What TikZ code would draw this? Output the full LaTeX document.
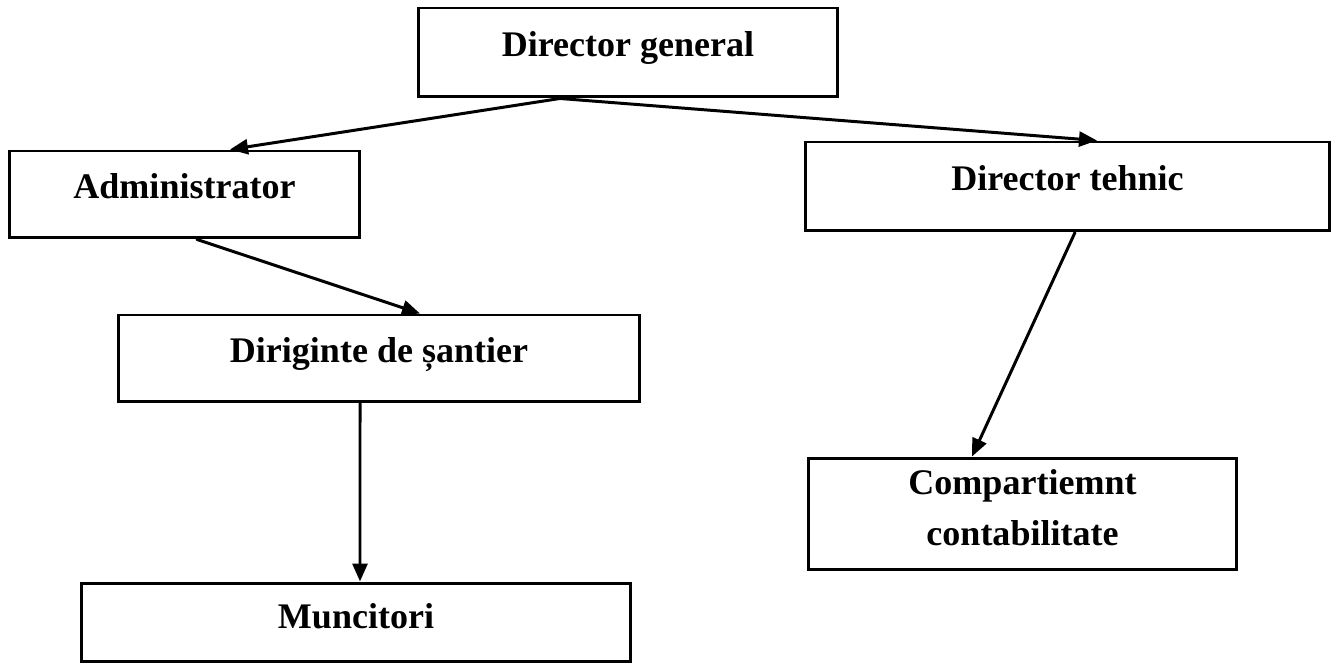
\documentclass[tikz,border=0pt]{standalone}
\usepackage{fontspec}
\setmainfont{Liberation Serif}
\usetikzlibrary{arrows.meta}

\begin{document}
\begin{tikzpicture}[x=0.02cm,y=-0.02cm,>={Triangle[length=3.6mm,width=3mm]},line width=1.7pt,line cap=round,
  font=\fontsize{20.5}{29}\selectfont\bfseries,
  box/.style={draw,inner sep=0pt,align=center,text height=0.7em,text depth=0.28em}]
\useasboundingbox (0,0) rectangle (1336,665);
\node[box,minimum width=8.4cm,minimum height=1.78cm] (gen) at (628,52.5) {Director general};
\node[box,minimum width=7.02cm,minimum height=1.74cm] (adm) at (184.5,194.5) {Administrator};
\node[box,minimum width=10.5cm,minimum height=1.78cm] (teh) at (1067.5,186.5) {Director tehnic};
\node[box,minimum width=10.44cm,minimum height=1.74cm] (dir) at (379,358.5) {Diriginte de șantier};
\node[box,minimum width=11cm,minimum height=1.58cm,text depth=0em] (mun) at (356,622.5) {Muncitori};
\node[box,minimum width=8.58cm,minimum height=2.24cm,text height=46.2pt,text depth=10pt] (com) at (1022.5,514) {Compartiemnt\\contabilitate};
\draw[->] ([xshift=-1.36cm]gen.south) -- ([xshift=0.91cm]adm.north);
\draw[->] ([xshift=-1.36cm]gen.south) -- ([xshift=0.59cm]teh.north);
\draw[->] ([xshift=0.25cm]adm.south) -- ([xshift=0.82cm]dir.north);
\draw[->] ([xshift=-0.38cm]dir.south) -- ([xshift=0.08cm]mun.north);
\draw[->] ([xshift=0.15cm]teh.south) -- ([xshift=-1.01cm]com.north);
\end{tikzpicture}
\end{document}
